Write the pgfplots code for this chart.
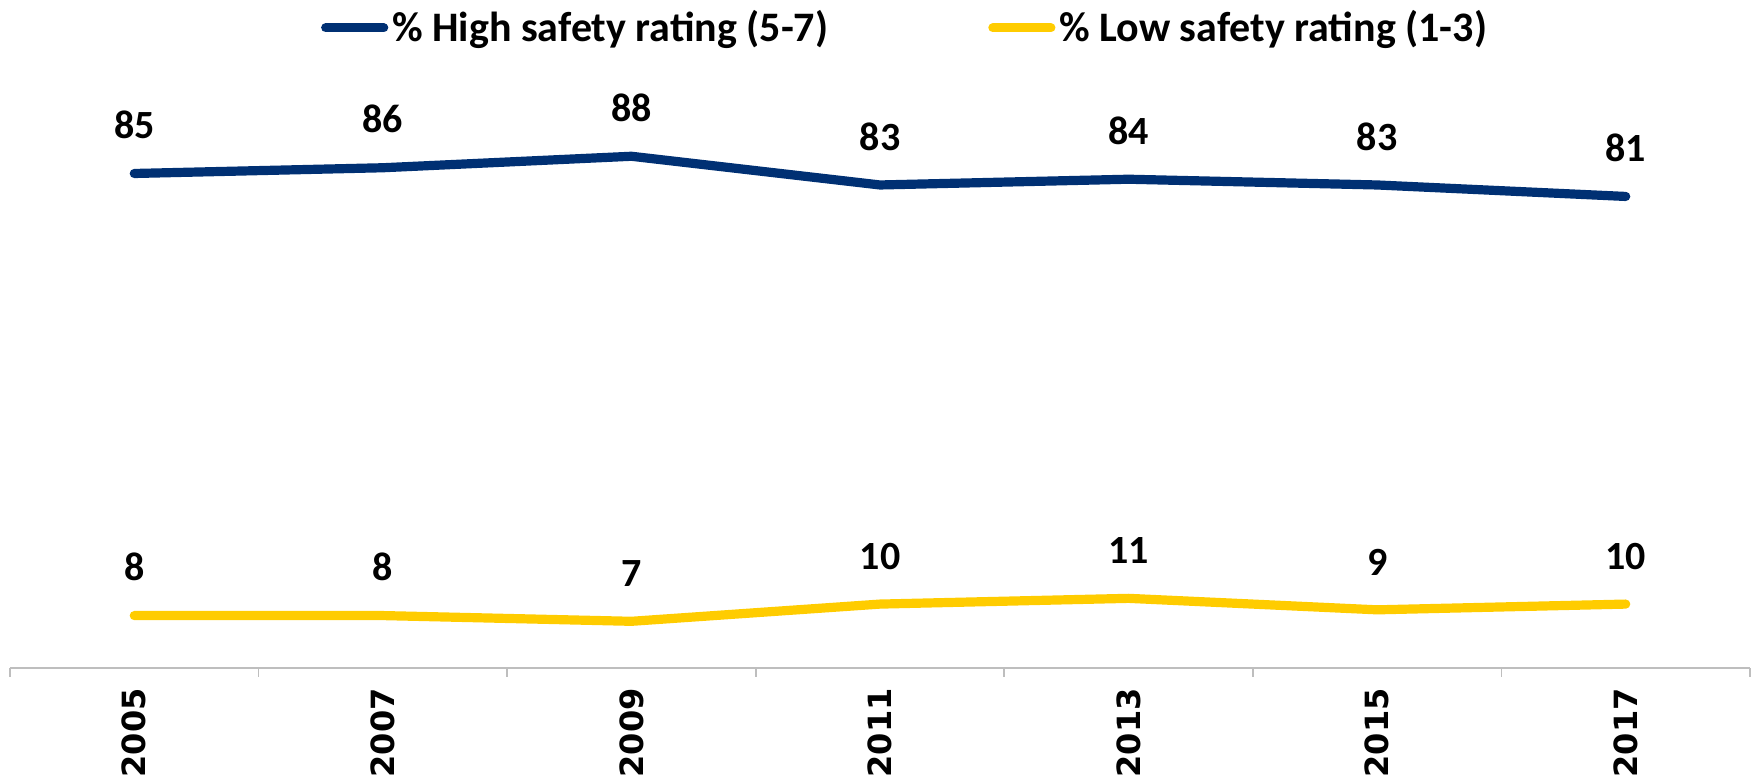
\documentclass[border=0pt]{standalone}
\usepackage{pgfplots}
\pgfplotsset{compat=1.18}
\usepackage{fontspec}
\setmainfont{Carlito}
\newfontfamily\yearfont{DejaVu Sans}
\definecolor{hiblue}{RGB}{0,48,115}
\definecolor{loyel}{RGB}{255,204,0}
\definecolor{axgray}{RGB}{190,190,190}
\begin{document}
\begin{tikzpicture}
\begin{axis}[
  scale only axis, width=870pt, height=284pt,
  xmin=-0.5, xmax=6.5, ymin=-1.13, ymax=97.8,
  clip=false,
  hide y axis,
  axis x line=bottom,
  x axis line style={-, draw=axgray, line width=0.9pt},
  xtick={-0.5,0.5,...,6.5},
  xticklabels={},
  tick align=outside,
  major tick length=4.5pt,
  tick style={draw=axgray, line width=0.9pt},
  extra x ticks={0,1,2,3,4,5,6},
  extra x tick labels={2005,2007,2009,2011,2013,2015,2017},
  extra x tick style={major tick length=0pt, tick style={draw=none}},
  xticklabel style={rotate=90, anchor=east, inner sep=0pt, font=\yearfont\bfseries\fontsize{16}{18}\selectfont},
  xticklabel shift=10pt,
  legend columns=2,
  legend style={at={(0.515,1.127)}, anchor=center, draw=none, fill=none,
    font=\bfseries\fontsize{21}{25}\selectfont,
    /tikz/every even column/.append style={column sep=78pt},
    /tikz/every odd column/.append style={column sep=0pt},
    inner sep=0pt},
  legend image code/.code={\draw[#1, line width=4.6pt, line cap=round] (0pt,0pt) -- (29pt,0pt);},
  nodes near coords,
  point meta=explicit symbolic,
  every node near coord/.style={anchor=south, inner sep=0pt, yshift=15pt, text=black, font=\bfseries\fontsize{20}{24}\selectfont},
]
\addplot[hiblue, line width=4.6pt, line cap=round, line join=round] coordinates {
  (0,85) [85] (1,86) [86] (2,88) [88] (3,83) [83] (4,84) [84] (5,83) [83] (6,81) [81]
};
\addlegendentry{\% High safety rating (5-7)}
\addplot[loyel, line width=4.6pt, line cap=round, line join=round] coordinates {
  (0,8) [8] (1,8) [8] (2,7) [7] (3,10) [10] (4,11) [11] (5,9) [9] (6,10) [10]
};
\addlegendentry{\% Low safety rating (1-3)}
\end{axis}
\pgfresetboundingbox
\path[use as bounding box] (-5pt,-55.5pt) rectangle (872.5pt,334pt);
\end{tikzpicture}
\end{document}
